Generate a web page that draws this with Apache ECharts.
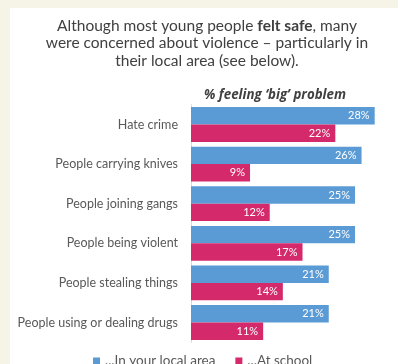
<!DOCTYPE html>
<html><head><meta charset="utf-8">
<script src="https://cdn.jsdelivr.net/npm/echarts@6/dist/echarts.min.js"></script>
<style>html,body{margin:0;padding:0;background:#f6f4e7;}#c{width:398px;height:364px;}</style>
</head><body><div id="c"></div>
<script>
const categories = ["Hate crime","People carrying knives","People joining gangs","People being violent","People stealing things","People using or dealing drugs"];
const localArea = [28,26,25,25,21,21];
const atSchool = [22,9,12,17,14,11];
const seriesNames = ["...In your local area","...At school"];

const chart = echarts.init(document.getElementById('c'));
const FONT = 'Lato';
chart.setOption({
  backgroundColor: '#f6f4e7',
  animation: false,
  graphic: [{type:'rect', left:10, top:8, shape:{width:400, height:370}, style:{fill:'#ffffff'}, z:-10}],
  title: [{
    text: 'Although most young people {b|felt safe}, many\nwere concerned about violence – particularly in\ntheir local area (see below).',
    left: 202, top: 12, textAlign: 'center',
    textStyle: {fontFamily: FONT, fontSize: 15.5, fontWeight: 'normal', color: '#404040', lineHeight: 17.5,
      rich: {b: {fontFamily: FONT, fontSize: 15.5, fontWeight: 'bold', color: '#404040', lineHeight: 17.5}}}
  },{
    text: '% feeling ‘big’ problem',
    left: 199, top: 84,
    textStyle: {fontFamily: 'Open Sans', fontSize: 13.3, fontWeight: 'bold', fontStyle: 'italic', color: '#404040'}
  }],
  legend: {
    data: seriesNames, left: 88, top: 349, itemWidth: 7, itemHeight: 7, itemGap: 20, icon: 'rect',
    textStyle: {fontFamily: FONT, fontSize: 13.5, color: '#595959'}
  },
  grid: {left: 191, top: 104.7, right: 10.2, bottom: 21.7, containLabel: false},
  xAxis: {type: 'value', min: 0, max: 30, show: false},
  yAxis: {type: 'category', data: categories, inverse: true,
    axisLine: {show: true, lineStyle: {color: '#d9d9d9'}}, axisTick: {show: false},
    axisLabel: {fontFamily: FONT, fontSize: 12.5, color: '#595959', margin: 13}},
  series: [
    {name: seriesNames[0], type: 'bar', data: localArea, barGap: '0%', barCategoryGap: '12%',
     itemStyle: {color: '#5b9bd5'},
     label: {show: true, position: 'insideRight', formatter: '{c}%', color: '#ffffff', fontFamily: FONT, fontSize: 11}},
    {name: seriesNames[1], type: 'bar', data: atSchool, barGap: '0%', barCategoryGap: '12%',
     itemStyle: {color: '#d42a6b'},
     label: {show: true, position: 'insideRight', formatter: '{c}%', color: '#ffffff', fontFamily: FONT, fontSize: 11}}
  ]
});
</script></body></html>
